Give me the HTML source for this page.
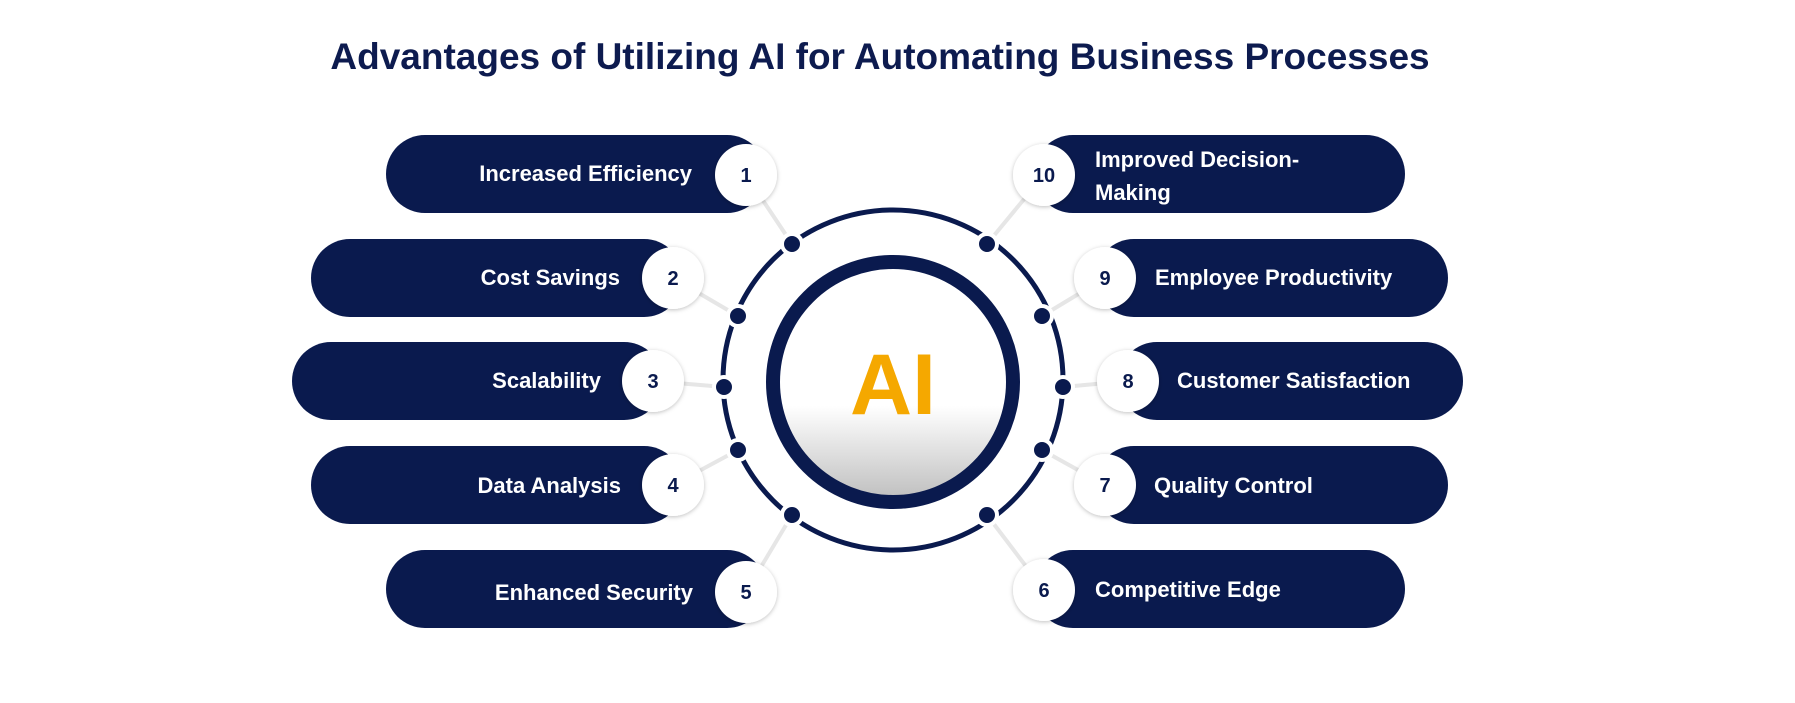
<!DOCTYPE html>
<html><head><meta charset="utf-8"><style>
html,body{margin:0;padding:0;background:#fff;}
body{width:1795px;height:703px;overflow:hidden;position:relative;font-family:"Liberation Sans",sans-serif;}
.title{position:absolute;left:0;width:1760px;top:36px;text-align:center;font-weight:bold;font-size:37px;color:#0d1b4f;}
</style></head><body>
<div class="title">Advantages of Utilizing AI for Automating Business Processes</div>
<svg width="1795" height="703" style="position:absolute;left:0;top:0" xmlns="http://www.w3.org/2000/svg">
<defs>
<linearGradient id="g" x1="0" y1="0" x2="0" y2="1">
<stop offset="0" stop-color="#fff"/><stop offset="0.6" stop-color="#fff"/><stop offset="1" stop-color="#bdbdbd"/>
</linearGradient>
<filter id="sh" x="-30%" y="-30%" width="160%" height="160%"><feDropShadow dx="0" dy="1" stdDeviation="2" flood-color="#000" flood-opacity="0.25"/></filter>
</defs>
<g stroke="#e6e6e6" stroke-width="4">
<line x1="792" y1="244" x2="746" y2="175"/><line x1="738" y1="316" x2="673" y2="278"/><line x1="724" y1="387" x2="653" y2="381"/><line x1="738" y1="450" x2="673" y2="485"/><line x1="792" y1="515" x2="746" y2="592"/>
<line x1="987" y1="244" x2="1044" y2="175"/><line x1="1042" y1="316" x2="1105" y2="278"/><line x1="1063" y1="387" x2="1128" y2="381"/><line x1="1042" y1="450" x2="1105" y2="485"/><line x1="987" y1="515" x2="1044" y2="590"/>
</g>
<circle cx="893" cy="380" r="170" fill="none" stroke="#0a1a4e" stroke-width="5"/>
<circle cx="893" cy="382" r="120" fill="url(#g)" stroke="#0a1a4e" stroke-width="14"/>
<text x="893" y="414" text-anchor="middle" font-family="Liberation Sans" font-weight="bold" font-size="86" fill="#f5a800">AI</text>
<g fill="#0a1a4e" stroke="#fff" stroke-width="4">
<circle cx="792" cy="244" r="10"/><circle cx="738" cy="316" r="10"/><circle cx="724" cy="387" r="10"/><circle cx="738" cy="450" r="10"/><circle cx="792" cy="515" r="10"/>
<circle cx="987" cy="244" r="10"/><circle cx="1042" cy="316" r="10"/><circle cx="1063" cy="387" r="10"/><circle cx="1042" cy="450" r="10"/><circle cx="987" cy="515" r="10"/>
</g>
<g fill="#0a1a4e">
<rect x="386" y="135" width="380" height="78" rx="39"/>
<rect x="311" y="239" width="372" height="78" rx="39"/>
<rect x="292" y="342" width="371" height="78" rx="39"/>
<rect x="311" y="446" width="372" height="78" rx="39"/>
<rect x="386" y="550" width="380" height="78" rx="39"/>
<rect x="1034" y="135" width="371" height="78" rx="39"/>
<rect x="1095" y="239" width="353" height="78" rx="39"/>
<rect x="1118" y="342" width="345" height="78" rx="39"/>
<rect x="1095" y="446" width="353" height="78" rx="39"/>
<rect x="1034" y="550" width="371" height="78" rx="39"/>
</g>
<g fill="#fff" filter="url(#sh)">
<circle cx="746" cy="175" r="31"/><circle cx="673" cy="278" r="31"/><circle cx="653" cy="381" r="31"/><circle cx="673" cy="485" r="31"/><circle cx="746" cy="592" r="31"/>
<circle cx="1044" cy="175" r="31"/><circle cx="1105" cy="278" r="31"/><circle cx="1128" cy="381" r="31"/><circle cx="1105" cy="485" r="31"/><circle cx="1044" cy="590" r="31"/>
</g>
<g font-family="Liberation Sans" font-weight="bold" font-size="20" fill="#0a1a4e" text-anchor="middle">
<text x="746" y="182">1</text><text x="673" y="285">2</text><text x="653" y="388">3</text><text x="673" y="492">4</text><text x="746" y="599">5</text>
<text x="1044" y="182">10</text><text x="1105" y="285">9</text><text x="1128" y="388">8</text><text x="1105" y="492">7</text><text x="1044" y="597">6</text>
</g>
<g font-family="Liberation Sans" font-weight="bold" font-size="22" fill="#fff">
<g text-anchor="end">
<text x="692" y="181">Increased Efficiency</text>
<text x="620" y="285">Cost Savings</text>
<text x="601" y="388">Scalability</text>
<text x="621" y="493">Data Analysis</text>
<text x="693" y="600">Enhanced Security</text>
</g>
<text x="1095" y="167">Improved Decision-</text>
<text x="1095" y="200">Making</text>
<text x="1155" y="285">Employee Productivity</text>
<text x="1177" y="388">Customer Satisfaction</text>
<text x="1154" y="493">Quality Control</text>
<text x="1095" y="597">Competitive Edge</text>
</g>
</svg>
</body></html>
